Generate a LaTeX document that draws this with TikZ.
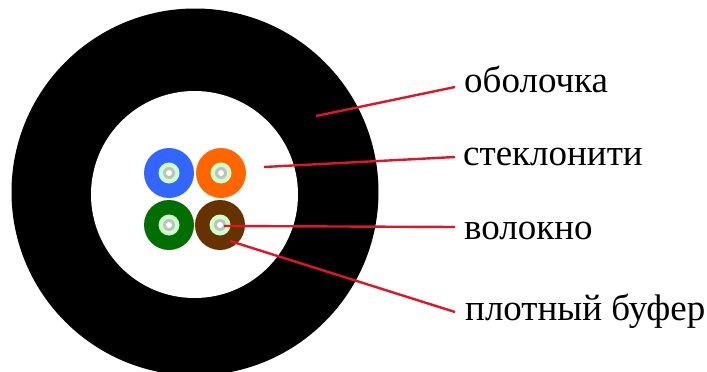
\documentclass[tikz,border=0pt]{standalone}
\usepackage{fontspec}
\setmainfont{Liberation Serif}
\definecolor{cblue}{RGB}{51,102,255}
\definecolor{corange}{RGB}{255,102,0}
\definecolor{cgreen}{RGB}{0,110,0}
\definecolor{cbrown}{RGB}{102,51,0}
\definecolor{cring}{RGB}{204,255,204}
\definecolor{ccore}{RGB}{192,192,192}
\definecolor{cline}{RGB}{225,20,40}
\tikzset{
  disc/.style={circle,inner sep=0pt,minimum size=#1},
  lab/.style={anchor=base west,inner sep=0pt,font=\fontsize{37}{37}\selectfont,text=black},
  lead/.style={draw=cline,line width=2.4pt},
}
\newcommand{\fibre}[3]{%
  \node[disc=50pt,fill=#3] (#1) at #2 {};
  \node[disc=21pt,fill=cring] (#1r) at #2 {};
  \node[disc=12pt,fill=ccore] (#1c) at #2 {};
  \node[disc=6pt,fill=white] (#1w) at #2 {};
}
\begin{document}
\begin{tikzpicture}[x=1pt,y=-1pt]
\useasboundingbox (0,0) rectangle (707,372);
\fill[white] (0,0) rectangle (707,372);
\begin{scope}
\clip (0,0) rectangle (707,372);
\node[disc=367pt,fill=black] (jacket) at (195,192) {};
\end{scope}
\node[disc=207pt,fill=white] (yarn) at (194.5,194.5) {};
\fibre{blue}{(169,173)}{cblue}
\fibre{orange}{(221,173)}{corange}
\fibre{green}{(169,225)}{cgreen}
\fibre{brown}{(220,225)}{cbrown}
\node[lab] (l1) at (464,92) {оболочка};
\node[lab] (l2) at (463,165) {стеклонити};
\node[lab] (l3) at (464,239) {волокно};
\node[lab] (l4) at (465,320) {плотный буфер};
\coordinate (a1) at (316,116);
\coordinate (a2) at (264,167);
\coordinate (a3) at (224,226);
\coordinate (a4) at (230,241);
\coordinate (b1) at (455,87);
\coordinate (b2) at (455,157);
\coordinate (b3) at (455,227);
\coordinate (b4) at (455,312);
\draw[lead] (a1) -- (b1);
\draw[lead] (a2) -- (b2);
\draw[lead] (a3) -- (b3);
\draw[lead] (a4) -- (b4);
\end{tikzpicture}
\end{document}
